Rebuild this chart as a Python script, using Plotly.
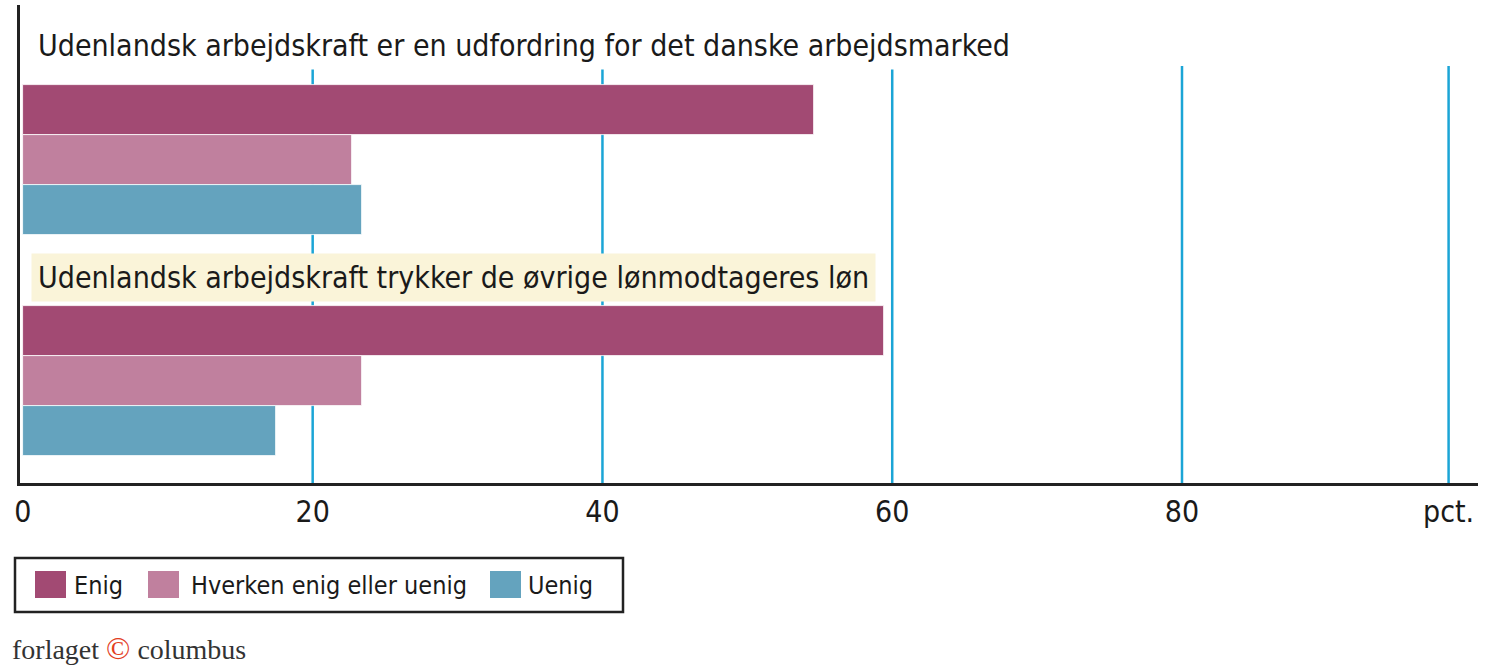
import plotly.graph_objects as go

# ---------------- data ----------------
statements = [
    "Udenlandsk arbejdskraft er en udfordring for det danske arbejdsmarked",
    "Udenlandsk arbejdskraft trykker de øvrige lønmodtageres løn",
]
series_names = ["Enig", "Hverken enig eller uenig", "Uenig"]
enig = [54.6, 59.4]
hverken = [22.7, 23.4]
uenig = [23.4, 17.5]
series_colors = ["#a24a73", "#c0809e", "#64a3be"]
tick_vals = [0, 20, 40, 60, 80, 98.4]
tick_text = ["0", "20", "40", "60", "80", "pct."]
footer_parts = ["forlaget", "©", "columbus"]

# ---------------- layout constants ----------------
W, H = 1500, 668
ML, MR, MT, MB = 20, 22, 5, 185
PW, PH = W - ML - MR, H - MT - MB
GROUP_TOP = 80      # top of first bar (px from plot top)
GROUP_STEP = 221    # distance between groups
BAR_H = 50
GRID_TOP = 61
COND = "Liberation Sans Narrow, DejaVu Sans Condensed, Arial Narrow, sans-serif"
SERIF = "Liberation Serif, DejaVu Serif, serif"
GRID_COLOR = "#1ba5d6"

def px_x(px):
    return (px - ML) / PW

def px_y(py):
    return (MT + PH - py) / PH

values = [enig, hverken, uenig]

fig = go.Figure()
for s, (name, vals, col) in enumerate(zip(series_names, values, series_colors)):
    ys = [GROUP_TOP + g * GROUP_STEP + s * BAR_H + BAR_H / 2 for g in range(len(statements))]
    fig.add_trace(go.Bar(
        x=vals, y=ys, orientation="h", name=name, width=BAR_H,
        marker=dict(color=col, line=dict(color="#ffffff", width=0.8)),
        showlegend=False,
    ))

shapes = []
for v in tick_vals[1:]:
    shapes.append(dict(type="line", xref="x", yref="y", x0=v, x1=v, y0=GRID_TOP, y1=PH,
                       line=dict(color=GRID_COLOR, width=2.5), layer="below"))

annotations = []
# statement labels
for g, txt in enumerate(statements):
    yc = 40 if g == 0 else 272
    annotations.append(dict(
        text=txt, xref="paper", yref="y", x=px_x(31), y=yc, xanchor="left", yanchor="middle",
        showarrow=False, font=dict(family=COND, size=30, color="#1a1a1a"),
        bgcolor="#ffffff" if g == 0 else "#faf4d9", borderpad=6,
    ))

# manual legend
shapes.append(dict(type="rect", xref="paper", yref="paper",
                   x0=px_x(15), x1=px_x(623), y0=px_y(612), y1=px_y(558),
                   line=dict(color="#222222", width=2.5), fillcolor="rgba(0,0,0,0)"))
sw_x = [35, 148, 490]
tx_x = [72, 189, 526]
for name, col, sx, tx in zip(series_names, series_colors, sw_x, tx_x):
    shapes.append(dict(type="rect", xref="paper", yref="paper",
                       x0=px_x(sx), x1=px_x(sx + 31), y0=px_y(598), y1=px_y(571),
                       line=dict(width=0), fillcolor=col))
    annotations.append(dict(text=name, xref="paper", yref="paper", x=px_x(tx), y=px_y(585),
                            xanchor="left", yanchor="middle", showarrow=False,
                            font=dict(family=COND, size=25, color="#1a1a1a")))

# footer
annotations.append(dict(
    text=(f"{footer_parts[0]} <span style='color:#e2401f;font-size:32px'>{footer_parts[1]}</span>"
          f" {footer_parts[2]}"),
    xref="paper", yref="paper", x=px_x(10), y=px_y(648), xanchor="left", yanchor="middle",
    showarrow=False, font=dict(family=SERIF, size=28, color="#333333")))

fig.update_layout(
    width=W, height=H,
    margin=dict(l=ML, r=MR, t=MT, b=MB, pad=0),
    paper_bgcolor="white", plot_bgcolor="white",
    barmode="overlay", bargap=0,
    xaxis=dict(range=[-0.2, 100.43], tickvals=tick_vals, ticktext=tick_text,
               showgrid=False, zeroline=False, showline=True, linecolor="#222222", linewidth=3,
               ticks="", ticklabelstandoff=0,
               tickfont=dict(family=COND, size=30, color="#1a1a1a")),
    yaxis=dict(range=[PH, 0], showgrid=False, zeroline=False, showticklabels=False,
               showline=True, linecolor="#222222", linewidth=3, ticks=""),
    shapes=shapes, annotations=annotations,
)

fig.write_html("out.html", config={"displayModeBar": False},
               post_script="document.body.style.margin='0';")
